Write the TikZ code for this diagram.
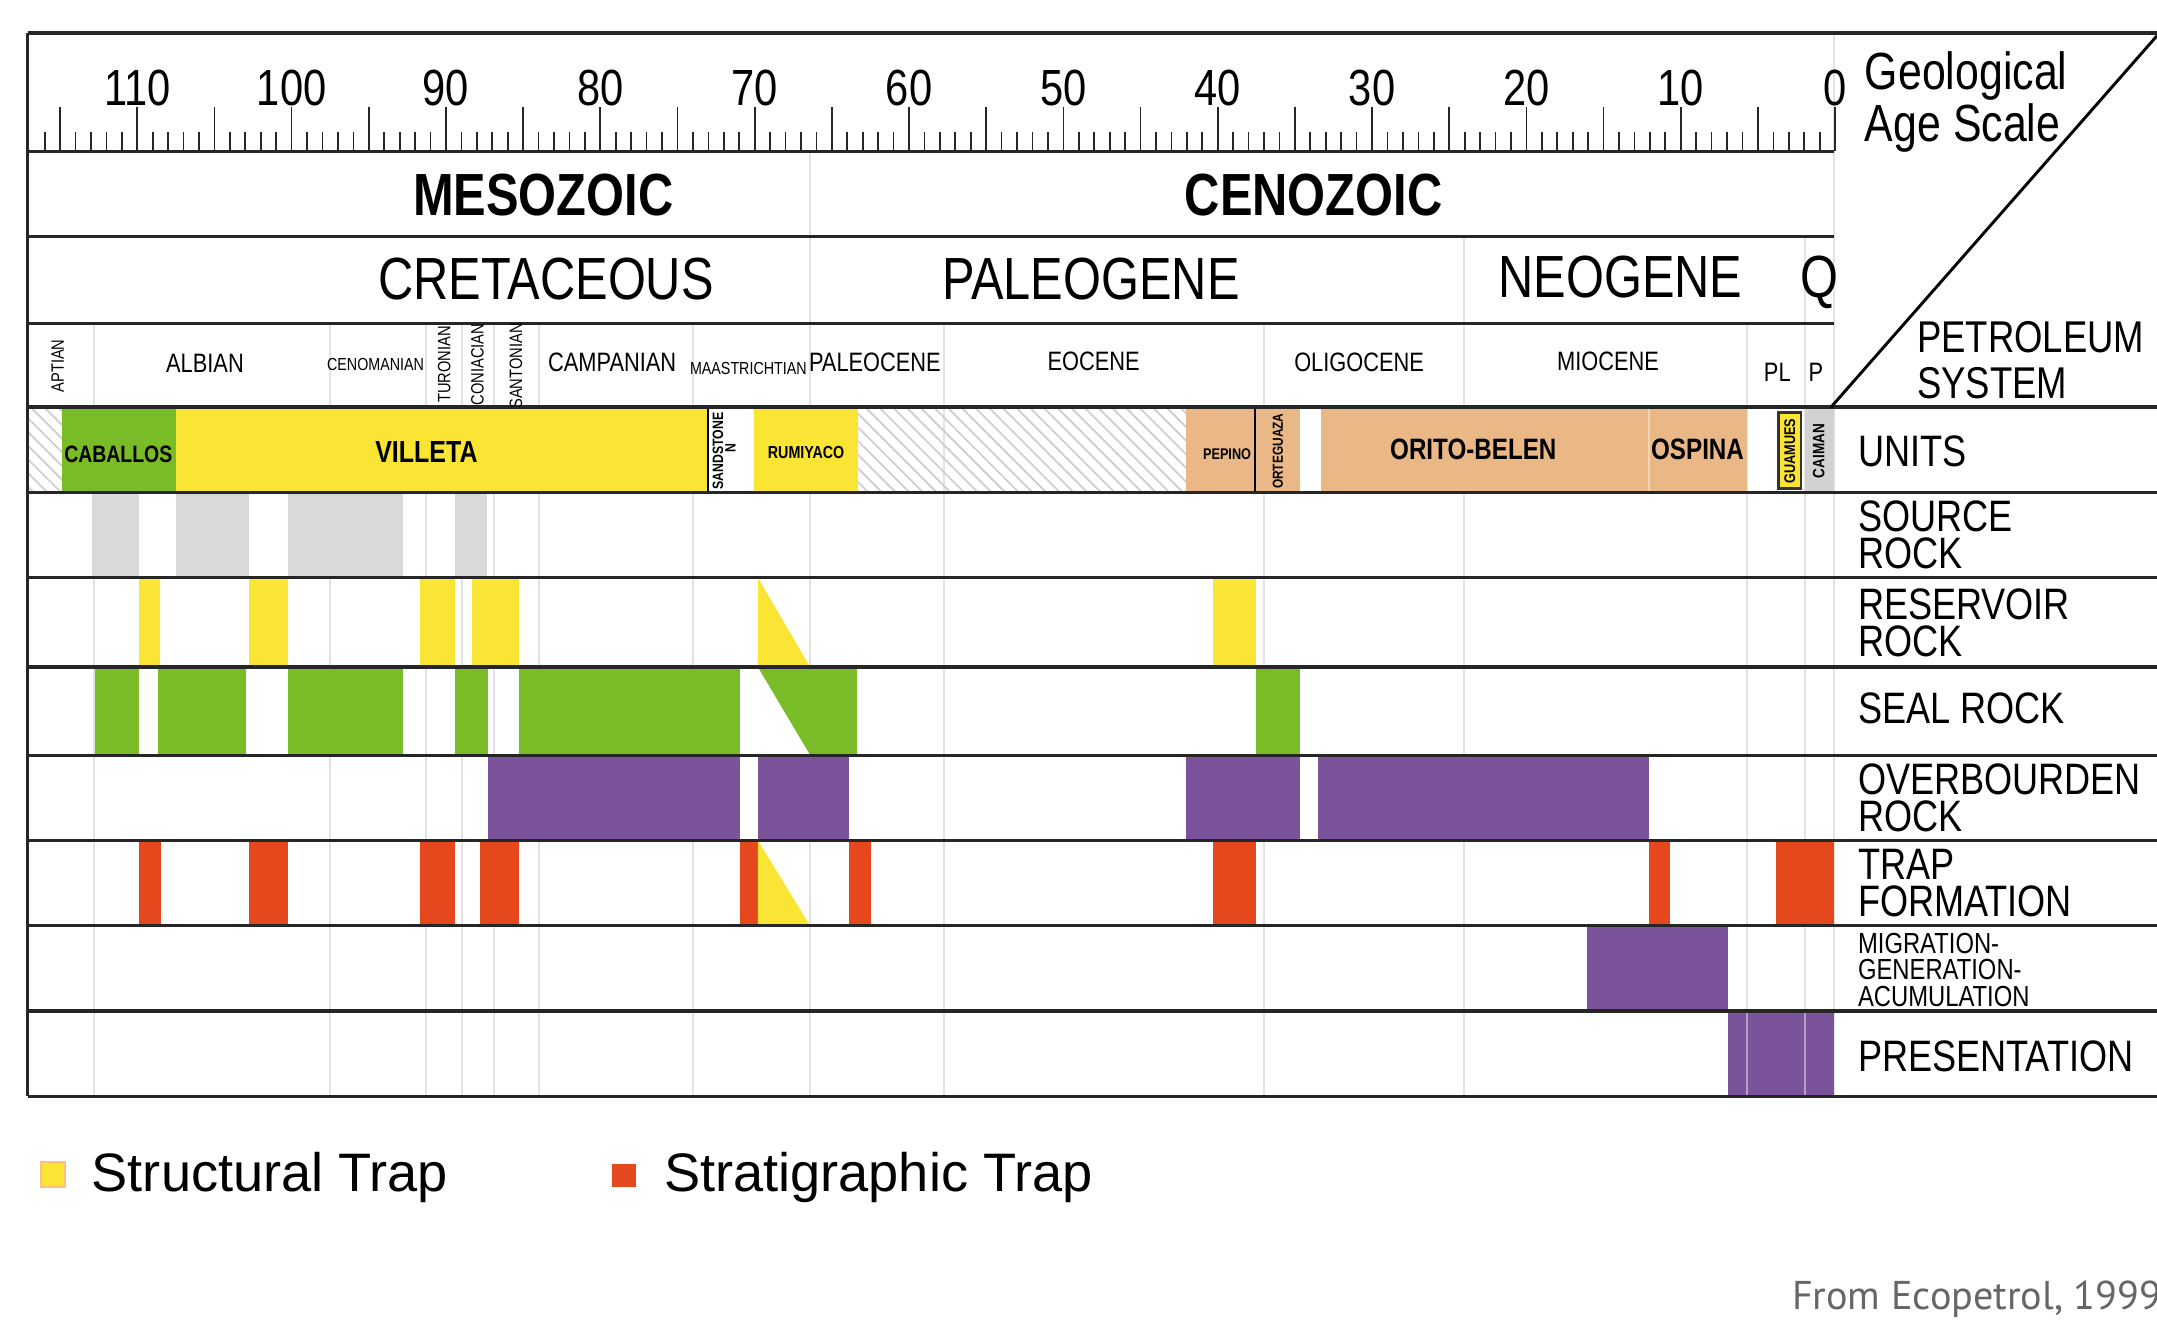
\documentclass[tikz,border=0pt]{standalone}
\usepackage{fontspec}
\setmainfont{Liberation Sans}
\newfontfamily\condfont[FakeStretch=0.82]{Liberation Sans}
\newfontfamily\creditfont{PT Sans}
\usetikzlibrary{patterns.meta}

\definecolor{unityellow}{RGB}{250,228,52}
\definecolor{unitgreen}{RGB}{122,188,40}
\definecolor{unittan}{RGB}{233,184,134}
\definecolor{unitpurple}{RGB}{123,83,155}
\definecolor{trapred}{RGB}{230,72,30}
\definecolor{srcgray}{RGB}{217,217,217}

\begin{document}
\begin{tikzpicture}[x=0.01cm,y=-0.01cm,
		every node/.style={inner sep=0pt},
		frame/.style={line width=0.7pt,black!85},
		gridline/.style={gray!22,line width=0.4pt},
		tick/.style={line width=0.35pt,black!85},
		hatched/.style={pattern={Lines[angle=-45,distance=2pt,line width=0.35pt]},pattern color=gray!40},
		agelab/.style={anchor=base,font=\condfont\fontsize{10.5}{10.5}\selectfont},
		eralab/.style={anchor=base,font=\condfont\bfseries\fontsize{12.3}{12.3}\selectfont},
		perlab/.style={anchor=base,font=\condfont\fontsize{12.3}{12.3}\selectfont},
		eplab/.style={anchor=base,font=\condfont\fontsize{#1}{#1}\selectfont},
		rotlab/.style={rotate=90,font=\condfont\fontsize{3.7}{3.7}\selectfont},
		unitlab/.style={anchor=base,font=\condfont\bfseries\fontsize{#1}{#1}\selectfont},
		unitrot/.style={rotate=90,font=\condfont\bfseries\fontsize{#1}{#1}\selectfont},
		sidelab/.style={anchor=west,align=left,font=\condfont\fontsize{9.1}{7.7}\selectfont}]
		\useasboundingbox (0,0) rectangle (1568,970);

		% stage boundaries
		\foreach \x in {68,240,310,336,359,392,504,589,686,919,1064,1270,1312}
			\draw[gridline] (\x,235) -- (\x,797);
		\draw[gridline] (589,110) -- (589,235);
		\draw[gridline] (1064,172) -- (1064,235);
		\draw[gridline] (1312,172) -- (1312,235);
		\draw[gridline] (1333,24) -- (1333,797);

		% units
		\fill[hatched] (20,297) rectangle (45,358);
		\fill[unitgreen] (45,297) rectangle (128,358);
		\fill[unityellow] (128,297) rectangle (515,358);
		\fill[unityellow] (548,297) rectangle (624,358);
		\fill[hatched] (624,297) rectangle (862,358);
		\fill[unittan] (862,297) rectangle (945,358);
		\fill[unittan] (960,297) rectangle (1270,358);
		\fill[gray!35] (1312,297) rectangle (1333,358);
		\draw[line width=0.4pt] (515,297) -- (515,358);
		\draw[line width=0.4pt] (912,297) -- (912,358);
		\draw[white!40!unittan,line width=0.4pt] (1199,297) -- (1199,358);
		\filldraw[fill=unityellow,draw=black!80,line width=0.5pt] (1293,300) rectangle (1309,355);

		% source rock
		\foreach \a/\b in {67/101,128/181,209/293,331/354}
			\fill[srcgray] (\a,359) rectangle (\b,419);
		% reservoir rock
		\foreach \a/\b in {101/116,181/209,305/331,343/377,882/913}
			\fill[unityellow] (\a,420) rectangle (\b,485);
		\fill[unityellow] (551,420) -- (551,485) -- (589,485) -- cycle;
		% seal rock
		\foreach \a/\b in {69/101,115/179,209/293,331/355,377/538,913/945}
			\fill[unitgreen] (\a,485) rectangle (\b,549);
		\fill[unitgreen] (551,485) -- (623,485) -- (623,549) -- (589,549) -- cycle;
		% overburden
		\foreach \a/\b in {355/538,551/617,862/945,958/1199}
			\fill[unitpurple] (\a,549) rectangle (\b,611);
		% trap
		\foreach \a/\b in {101/117,181/209,305/331,349/377,538/551,617/633,882/913,1199/1214,1291/1333}
			\fill[trapred] (\a,611) rectangle (\b,673);
		\fill[unityellow] (551,611) -- (551,673) -- (589,673) -- cycle;
		% migration, presentation
		\fill[unitpurple] (1154,673) rectangle (1256,735);
		\fill[unitpurple] (1256,735) rectangle (1333,797);
		\draw[unitpurple!55!white,line width=0.4pt] (1270,735) -- (1270,797);
		\draw[unitpurple!55!white,line width=0.4pt] (1312,735) -- (1312,797);

		% frame and rows
		\draw[frame] (20,24) -- (1568,24);
		\draw[frame] (20,110) -- (1333,110);
		\draw[frame] (20,172) -- (1333,172);
		\draw[frame] (20,235) -- (1333,235);
		\foreach \y in {296,358,420,485,549,611,673,735,797}
			\draw[frame] (20,\y) -- (1568,\y);
		\draw[frame] (20,24) -- (20,797);
		\draw[line width=0.6pt] (1331,296) -- (1568,26);

		% age scale
		\foreach \a in {0,...,116}
			\draw[tick] ({1334-11.22*\a},110) -- ++(0,-14);
		\foreach \a in {0,5,...,115}
			\draw[tick] ({1334-11.22*\a},110) -- ++(0,-32);
		\foreach \a in {0,10,...,110}
			\node[agelab] (age\a) at ({1334-11.22*\a},77) {\a};

		\node[eralab] (meso) at (395,157) {MESOZOIC};
		\node[eralab] (ceno) at (955,157) {CENOZOIC};
		\node[perlab] (creta) at (397,218) {CRETACEOUS};
		\node[perlab] (paleog) at (793,218) {PALEOGENE};
		\node[perlab] (neog) at (1178,216) {NEOGENE};
		\node[perlab] (quat) at (1323,216) {Q};

		\node[rotlab] (aptian) at (42,266) {APTIAN};
		\node[eplab=5.5] (albian) at (149,271) {ALBIAN};
		\node[eplab=3.6] (cenom) at (273,269) {CENOMANIAN};
		\node[rotlab] (turon) at (323,265) {TURONIAN};
		\node[rotlab] (conia) at (347,265) {CONIACIAN};
		\node[rotlab] (santo) at (375,266) {SANTONIAN};
		\node[eplab=5.5] (campa) at (445,270) {CAMPANIAN};
		\node[eplab=3.6] (maast) at (544,272) {MAASTRICHTIAN};
		\node[eplab=5.5] (paleoc) at (636,270) {PALEOCENE};
		\node[eplab=5.5] (eoc) at (795,269) {EOCENE};
		\node[eplab=5.5] (olig) at (988,270) {OLIGOCENE};
		\node[eplab=5.5] (mioc) at (1169,269) {MIOCENE};
		\node[eplab=5.5] (plio) at (1292,277) {PL};
		\node[eplab=5.5] (pleis) at (1320,277) {P};

		\node[unitlab=4.9] (caballos) at (86,336) {CABALLOS};
		\node[unitlab=6.3] (villeta) at (310,336) {VILLETA};
		\node[unitrot=3.1] (sandst) at (522,328) {SANDSTONE};
		\node[unitrot=3.1] (sandn) at (531,326) {N};
		\node[unitlab=3.6] (rumiyaco) at (586,333) {RUMIYACO};
		\node[unitlab=3.2] (pepino) at (892,334) {PEPINO};
		\node[unitrot=3.0] (orteg) at (929,328) {ORTEGUAZA};
		\node[unitlab=6.1] (orito) at (1071,334) {ORITO-BELEN};
		\node[unitlab=6.1] (ospina) at (1234,334) {OSPINA};
		\node[unitrot=3.2] (guamues) at (1301,328) {GUAMUES};
		\node[unitrot=3.4] (caiman) at (1322,328) {CAIMAN};

		% right column
		\node[anchor=west,align=left,font=\condfont\fontsize{10.8}{10.8}\selectfont] (geoscale) at (1355,74) {Geological\\Age Scale};
		\node[anchor=west,align=left,font=\condfont\fontsize{9.2}{9.4}\selectfont] (petsys) at (1393,262) {PETROLEUM\\SYSTEM};
		\node[sidelab] (units) at (1350,328) {UNITS};
		\node[sidelab] (source) at (1350,389) {SOURCE\\ROCK};
		\node[sidelab] (reserv) at (1350,453) {RESERVOIR\\ROCK};
		\node[sidelab] (seal) at (1350,515) {SEAL ROCK};
		\node[sidelab] (overb) at (1350,580) {OVERBOURDEN\\ROCK};
		\node[sidelab] (trapf) at (1350,642) {TRAP\\FORMATION};
		\node[sidelab,font=\condfont\fontsize{6}{5.5}\selectfont] (migr) at (1350,705) {MIGRATION-\\GENERATION-\\ACUMULATION};
		\node[sidelab] (presv) at (1350,768) {PRESENTATION};

		% legend
		\filldraw[fill=unityellow,draw=orange!50,line width=0.4pt] (30,845) rectangle (47,863);
		\node[anchor=base west,font=\fontsize{11.2}{11.2}\selectfont] (structlab) at (66,866) {Structural Trap};
		\fill[trapred] (445,846) rectangle (462,863);
		\node[anchor=base west,font=\fontsize{11.2}{11.2}\selectfont] (stratlab) at (482,866) {Stratigraphic Trap};

		\node[anchor=base west,text=black!60,font=\creditfont\fontsize{8.3}{8.3}\selectfont] (credit) at (1302,952) {From Ecopetrol, 1999};
\end{tikzpicture}
\end{document}
